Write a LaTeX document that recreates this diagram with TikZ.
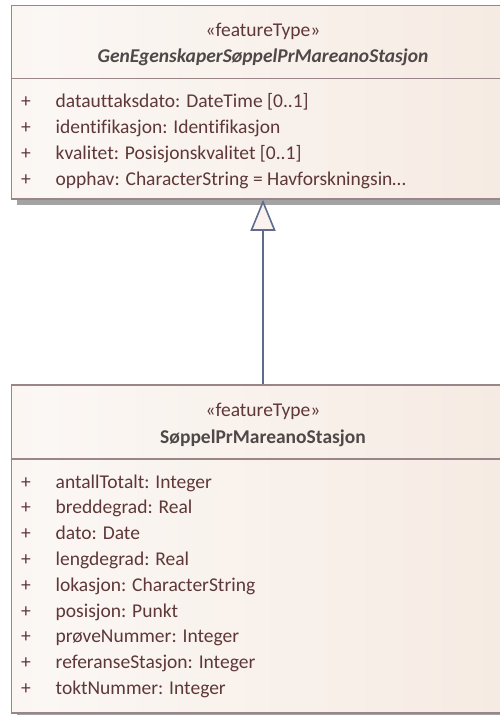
\documentclass[tikz,border=0pt]{standalone}
\usepackage{fontspec}
\setmainfont{Carlito}[Ligatures={NoCommon}]
\usetikzlibrary{arrows.meta,calc}
\definecolor{bordc}{HTML}{9A8688}
\definecolor{shadc}{HTML}{A3A3A3}
\definecolor{txtc}{HTML}{5E3838}
\definecolor{ttlc}{HTML}{4E4848}
\definecolor{linec}{HTML}{5F6C8C}
\definecolor{cA}{HTML}{F6E9DF}
\definecolor{cB}{HTML}{FBF7F4}
\definecolor{cC}{HTML}{F3E4D9}
\definecolor{tipc}{HTML}{FAF2EE}
\pgfdeclarehorizontalshading{boxshade}{100bp}{color(0bp)=(cA); color(28bp)=(cB); color(100bp)=(cC)}
\tikzset{
  classbox/.style={draw=bordc, line width=1.5pt, rectangle, inner sep=0pt, shading=boxshade},
  sepline/.style={draw=bordc, line width=1.5pt},
  boxshadow/.style={fill=shadc},
  stereo/.style={inner sep=0pt, anchor=base, text=txtc, font=\fontsize{19.5}{24}\selectfont},
  titlei/.style={inner sep=0pt, anchor=base, text=ttlc, font=\fontsize{19.5}{24}\selectfont\bfseries\itshape},
  titleb/.style={inner sep=0pt, anchor=base, text=ttlc, font=\fontsize{19.5}{24}\selectfont\bfseries},
  vis/.style={inner sep=0pt, anchor=base, text=txtc, font=\fontsize{19.5}{24}\selectfont},
  attr/.style={inner sep=0pt, anchor=base west, text=txtc, font=\fontsize{19.5}{24}\selectfont},
  genline/.style={draw=linec, line width=1.6pt, -{Triangle[length=31pt, width=25pt, fill=tipc, line width=1.6pt]}}
}
\begin{document}
\begin{tikzpicture}[x=1pt,y=-1pt]
\useasboundingbox (0,0) rectangle (500,715);
\clip (0,0) rectangle (500,715);
% top class
\fill[boxshadow] (17,10.5) rectangle (520,204.5);
\node[classbox, minimum width=503pt, minimum height=193.5pt] (sup) at (263,102.25) {};
\draw[sepline] (sup.west |- 0,78.3) -- (sup.east |- 0,78.3);
\node[stereo] (supst) at (263,36.5) {«featureType»};
\node[titlei] (supti) at (263,62.5) {GenEgenskaperSøppelPrMareanoStasjon};
\node[vis] (sp1) at (26,107.5) {+};
\node[attr] (sa1) at (55.5,107.5) {datauttaksdato: DateTime [0..1]};
\node[vis] (sp2) at (26,133.3) {+};
\node[attr] (sa2) at (55.5,133.3) {identifikasjon: Identifikasjon};
\node[vis] (sp3) at (26,159.2) {+};
\node[attr] (sa3) at (55.5,159.2) {kvalitet: Posisjonskvalitet [0..1]};
\node[vis] (sp4) at (26,185) {+};
\node[attr] (sa4) at (55.5,185) {opphav: CharacterString = Havforskningsin\ldots};
% bottom class
\fill[boxshadow] (17,390) rectangle (520,720);
\node[classbox, minimum width=503pt, minimum height=328pt] (sub) at (263,549) {};
\draw[sepline] (sub.west |- 0,459) -- (sub.east |- 0,459);
\node[stereo] (subst) at (263,416.5) {«featureType»};
\node[titleb] (subti) at (263,443) {SøppelPrMareanoStasjon};
\foreach \i/\t in {0/{antallTotalt: Integer},1/{breddegrad: Real},2/{dato: Date},3/{lengdegrad: Real},4/{lokasjon: CharacterString},5/{posisjon: Punkt},6/{prøveNummer: Integer},7/{referanseStasjon: Integer},8/{toktNummer: Integer}}{
  \node[vis] (bp\i) at (26,488+25.83*\i) {+};
  \node[attr] (ba\i) at (55.5,488+25.83*\i) {\t};
}
% generalization
\draw[genline] (sub.north) -- (sup.south);
\end{tikzpicture}
\end{document}
